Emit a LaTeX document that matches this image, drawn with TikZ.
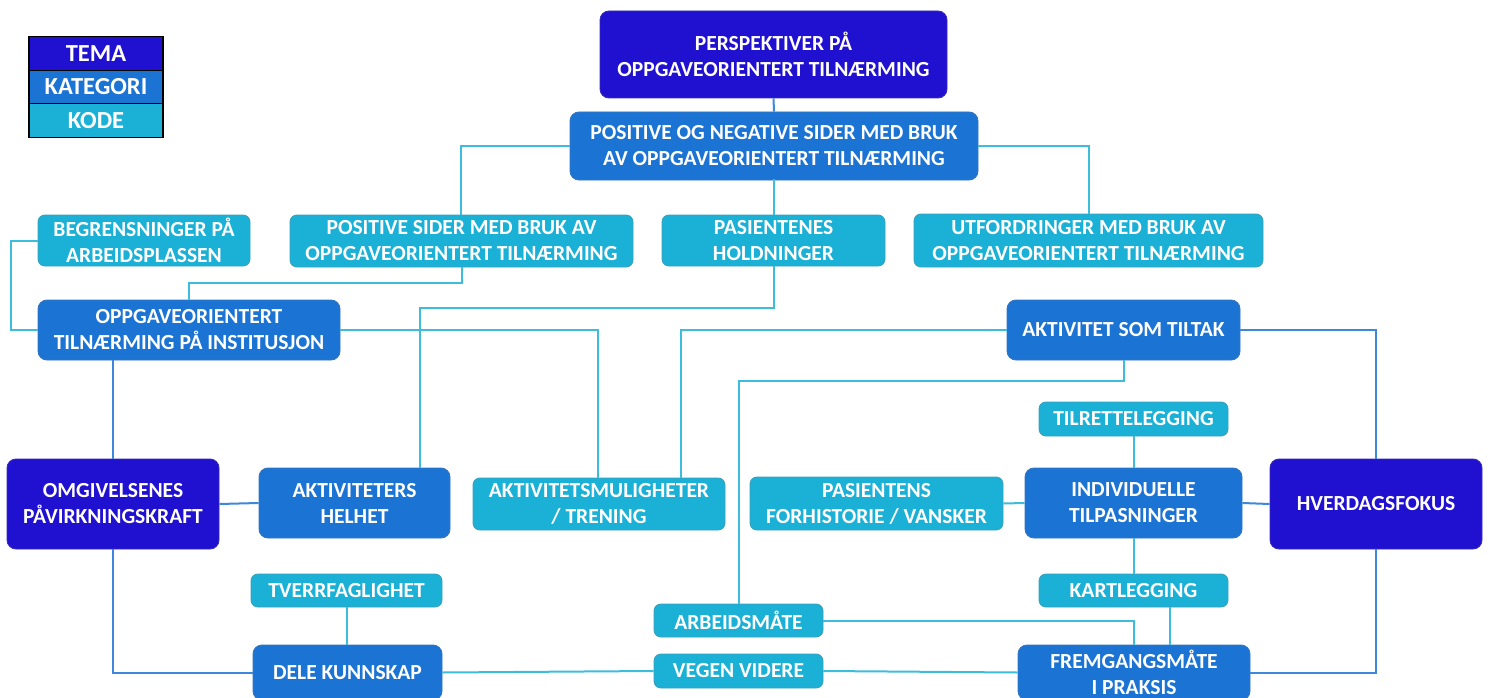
\documentclass[tikz,border=0pt]{standalone}
\usepackage{fontspec}
\setmainfont{Carlito}
\usepackage{tikz}
\tikzset{>=latex}
\usetikzlibrary{positioning, calc}

\definecolor{temacol}{RGB}{32,16,208}
\definecolor{katcol}{RGB}{27,115,212}
\definecolor{kodecol}{RGB}{27,176,214}

\tikzset{
    boks/.style={rounded corners=9pt, line width=0.9pt, text=white, align=center,
        inner sep=0pt, font=\fontsize{21.5}{26}\selectfont\bfseries},
    tema/.style={boks, fill=temacol, draw=temacol!75!gray},
    kategori/.style={boks, fill=katcol, draw=katcol!75!gray},
    kode/.style={boks, fill=kodecol, draw=kodecol!70!gray, rounded corners=7pt},
    legende/.style={draw=black, line width=1.2pt, text=white, inner sep=0pt,
        minimum width=134, minimum height=33.5, font=\fontsize{24.5}{27}\selectfont\bfseries},
    katlinje/.style={draw=katcol!85!white, line width=2pt},
    kodelinje/.style={draw=kodecol!85!white, line width=2pt},
}

\begin{document}
\begin{tikzpicture}[x=1pt, y=-1pt]
    \useasboundingbox (0,0) rectangle (1491,698);

    % Legend
    \foreach \lbl/\col [count=\i] in {TEMA/temacol, KATEGORI/katcol, KODE/kodecol}{
        \node[legende, fill=\col] (leg\i) at (96, 20 + 33.5*\i) {\lbl};
    }

    % Tema
    \node[tema, minimum width=347, minimum height=87] (persp) at (773.5,54.5) {PERSPEKTIVER PÅ\\OPPGAVEORIENTERT TILNÆRMING};
    \node[tema, minimum width=212, minimum height=90] (omgiv) at (113,504) {OMGIVELSENES\\PÅVIRKNINGSKRAFT};
    \node[tema, minimum width=212, minimum height=90] (hverdag) at (1376,504) {HVERDAGSFOKUS};

    % Kategori
    \node[kategori, minimum width=408, minimum height=68] (posneg) at (774,146) {POSITIVE OG NEGATIVE SIDER MED BRUK\\AV OPPGAVEORIENTERT TILNÆRMING};
    \node[kategori, minimum width=302, minimum height=60] (oppg) at (189,330) {OPPGAVEORIENTERT\\TILNÆRMING PÅ INSTITUSJON};
    \node[kategori, minimum width=233, minimum height=60] (tiltak) at (1123.5,330) {AKTIVITET SOM TILTAK};
    \node[kategori, minimum width=191, minimum height=70] (helhet) at (354.5,503) {AKTIVITETERS\\HELHET};
    \node[kategori, minimum width=217, minimum height=70] (indiv) at (1133.5,503) {INDIVIDUELLE\\TILPASNINGER};
    \node[kategori, minimum width=189, minimum height=55] (dele) at (347.5,672.5) {DELE KUNNSKAP};
    \node[kategori, minimum width=232, minimum height=55] (fremgang) at (1134,672.5) {FREMGANGSMÅTE\\I PRAKSIS};

    % Kode
    \node[kode, minimum width=212, minimum height=51] (begr) at (144,240.5) {BEGRENSNINGER PÅ\\ARBEIDSPLASSEN};
    \node[kode, minimum width=343, minimum height=52] (possider) at (461.5,241) {POSITIVE SIDER MED BRUK AV\\OPPGAVEORIENTERT TILNÆRMING};
    \node[kode, minimum width=223, minimum height=51] (holdning) at (773.5,240.5) {PASIENTENES\\HOLDNINGER};
    \node[kode, minimum width=349, minimum height=53] (utfordr) at (1088.5,240.5) {UTFORDRINGER MED BRUK AV\\OPPGAVEORIENTERT TILNÆRMING};
    \node[kode, minimum width=189, minimum height=34] (tilrett) at (1133.5,419) {TILRETTELEGGING};
    \node[kode, minimum width=252, minimum height=52] (aktmul) at (599,504) {AKTIVITETSMULIGHETER\\/ TRENING};
    \node[kode, minimum width=253, minimum height=53] (forhist) at (876.5,503.5) {PASIENTENS\\FORHISTORIE / VANSKER};
    \node[kode, minimum width=191, minimum height=33] (tverr) at (346.5,590.5) {TVERRFAGLIGHET};
    \node[kode, minimum width=189, minimum height=33] (kart) at (1133.5,590.5) {KARTLEGGING};
    \node[kode, minimum width=169, minimum height=33] (arbeid) at (738.5,620.5) {ARBEIDSMÅTE};
    \node[kode, minimum width=169, minimum height=34] (vegen) at (738.5,671) {VEGEN VIDERE};

    % Connectors
    \draw[katlinje] (persp.south) -- (posneg.north);
    \draw[kodelinje] (posneg.west) -| ([xshift=-1pt]possider.north);
    \draw[kodelinje] (posneg.east) -| (utfordr.north);
    \draw[kodelinje] (posneg.south) -- (holdning.south |- posneg.south) -- (holdning.north);
    \draw[kodelinje] (begr.west) -- ++(-27,0) |- (oppg.west);
    \draw[kodelinje] (possider.south) -- ++(0,16) -| (oppg.north);
    \draw[kodelinje] (holdning.south) -- ++(0,42) -| ([xshift=65.5pt]helhet.north);
    \draw[kodelinje] (oppg.east) -| ([xshift=-1pt]aktmul.north);
    \draw[kodelinje] (tiltak.west) -| ([xshift=82pt]aktmul.north);
    \draw[kodelinje] (tiltak.south) -- ++(0,21) -| (arbeid.north);
    \draw[katlinje] (tiltak.east) -| (hverdag.north);
    \draw[katlinje] (oppg.south -| omgiv.north) -- (omgiv.north);
    \draw[katlinje] (omgiv.east) -- (helhet.west);
    \draw[katlinje] (omgiv.south) |- (dele.west);
    \draw[kodelinje] (tverr.south) -- (tverr.south |- dele.north);
    \draw[kodelinje] (dele.east) -- (vegen.west);
    \draw[kodelinje] (vegen.east) -- (fremgang.west);
    \draw[kodelinje] (arbeid.east) -| (fremgang.north);
    \draw[kodelinje] ([xshift=36pt]kart.south) -- ([xshift=36pt]kart.south |- fremgang.north);
    \draw[kodelinje] (tilrett.south) -- (indiv.north);
    \draw[kodelinje] (indiv.south) -- (kart.north);
    \draw[kodelinje] (forhist.east) -- (indiv.west);
    \draw[katlinje] (indiv.east) -- (hverdag.west);
    \draw[katlinje] (fremgang.east) -| (hverdag.south);

\end{tikzpicture}
\end{document}
